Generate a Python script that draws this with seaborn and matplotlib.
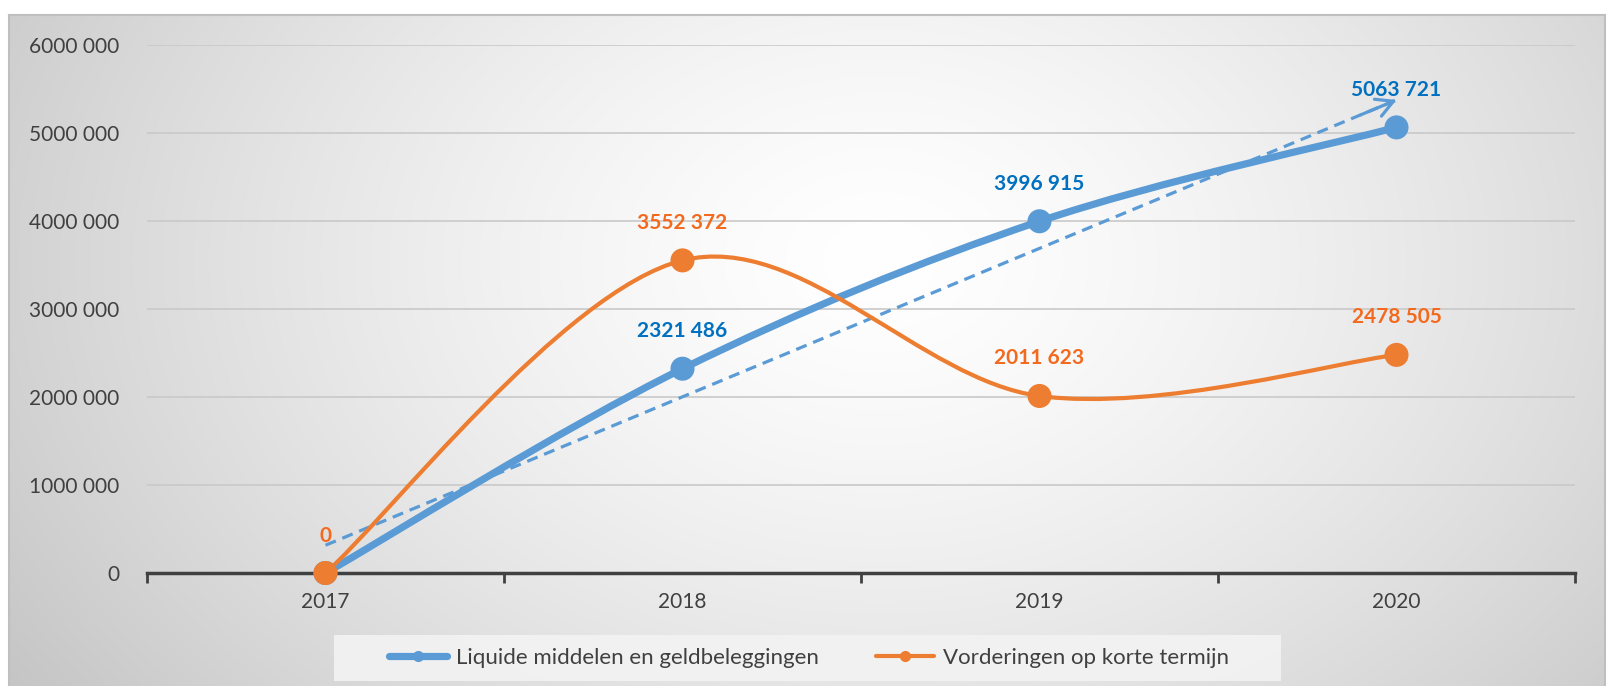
import numpy as np
import matplotlib
matplotlib.use("Agg")
import matplotlib.pyplot as plt
import seaborn as sns
from matplotlib.path import Path
from matplotlib.patches import PathPatch, Rectangle
from matplotlib.lines import Line2D
from matplotlib.ticker import FuncFormatter, FixedLocator

years = ["2017", "2018", "2019", "2020"]
liquide = [0, 2321486, 3996915, 5063721]
vorderingen = [0, 3552372, 2011623, 2478505]
series_names = ["Liquide middelen en geldbeleggingen", "Vorderingen op korte termijn"]

BLUE = "#5B9BD5"
ORANGE = "#ED7D31"
BLUE_TXT = "#0070C0"
ORANGE_TXT = "#F36A1E"
TXT = "#404040"

sns.set_theme(style="white")
plt.rcParams["font.family"] = ["Lato", "DejaVu Sans"]


def fmt_thousands(v):
    s = f"{int(round(v)):,}".replace(",", " ")
    # excel style: "6000 000" (no separator in the millions group)
    parts = s.split(" ")
    if len(parts) > 2:
        s = "".join(parts[:-1]) + " " + parts[-1]
    return s


def smooth_path(xs, ys):
    # catmull-rom style bezier, like excel's "smoothed line"
    pts = np.column_stack([xs, ys]).astype(float)
    ext = np.vstack([pts[0], pts, pts[-1]])
    verts = [tuple(pts[0])]
    codes = [Path.MOVETO]
    for i in range(len(pts) - 1):
        p0, p1, p2, p3 = ext[i], ext[i + 1], ext[i + 2], ext[i + 3]
        c1 = p1 + (p2 - p0) / 6.0
        c2 = p2 - (p3 - p1) / 6.0
        verts += [tuple(c1), tuple(c2), tuple(p2)]
        codes += [Path.CURVE4] * 3
    return Path(verts, codes)


fig = plt.figure(figsize=(16.11, 6.86), dpi=100)
fig.patch.set_facecolor("white")

# chart area background with radial gradient
W, H = 1611, 686
fx0, fy0 = 9, 15
bg = fig.add_axes([fx0 / W, 0, (1605 - fx0) / W, (H - fy0) / H], zorder=-5)
gx, gy = np.meshgrid(np.arange(fx0, 1605), np.arange(fy0, H))
r = np.sqrt(((gx - 880) / 860.0) ** 2 + ((gy - 260) / 620.0) ** 2)
val = 1.0 - 0.235 * (np.clip(r, 0, 1.25) / 1.25) ** 1.4
img = np.dstack([val, val, val])
bg.imshow(img, aspect="auto", interpolation="bilinear")
bg.set_xticks([])
bg.set_yticks([])
for side in ["top", "left", "right"]:
    bg.spines[side].set_color("#bfbfbf")
    bg.spines[side].set_linewidth(1.5)
bg.spines["bottom"].set_visible(False)

ax = fig.add_axes([147 / W, 1 - 573 / H, (1575 - 147) / W, (573 - 45) / H])
ax.patch.set_alpha(0)

x = np.arange(len(years))

# gridlines
ax.set_ylim(0, 6000000)
ax.set_xlim(-0.5, 3.5)
ax.yaxis.set_major_locator(FixedLocator(np.arange(0, 6000001, 1000000)))
ax.yaxis.set_major_formatter(FuncFormatter(lambda v, p: fmt_thousands(v)))
ax.grid(axis="y", color="#c9c9c9", linewidth=1.2, zorder=0)
ax.grid(axis="x", visible=False)

# smoothed series lines
ax.add_patch(PathPatch(smooth_path(x, liquide), fill=False, edgecolor=BLUE,
                       linewidth=5.2, capstyle="round", zorder=3, clip_on=False))
ax.add_patch(PathPatch(smooth_path(x, vorderingen), fill=False, edgecolor=ORANGE,
                       linewidth=3, capstyle="round", zorder=3, clip_on=False))

# linear trend line of the blue series
slope, icpt = np.polyfit(x, liquide, 1)
ax.plot([0, 3], [icpt, icpt + 3 * slope], color=BLUE, linewidth=2.3,
        linestyle=(0, (3.5, 2.2)), zorder=2)
ax.annotate("", xy=(3, icpt + 3 * slope), xytext=(2.9, icpt + 2.9 * slope),
            arrowprops=dict(arrowstyle="->,head_length=0.55,head_width=0.3",
                            color=BLUE, lw=2.3, mutation_scale=22,
                            shrinkA=0, shrinkB=0), zorder=2)

# markers
sns.scatterplot(x=x, y=liquide, s=300, color=BLUE, edgecolor="none",
                zorder=4, ax=ax, legend=False, clip_on=False)
sns.scatterplot(x=x, y=vorderingen, s=300, color=ORANGE, edgecolor="none",
                zorder=5, ax=ax, legend=False, clip_on=False)

# data labels
for xi, v in zip(x, liquide):
    if v == 0:
        continue
    ax.annotate(fmt_thousands(v), (xi, v), xytext=(0, 27), textcoords="offset points",
                ha="center", va="center", fontsize=15, fontweight="bold",
                color=BLUE_TXT, zorder=6)
for xi, v in zip(x, vorderingen):
    ax.annotate(fmt_thousands(v), (xi, v), xytext=(0, 27), textcoords="offset points",
                ha="center", va="center", fontsize=15, fontweight="bold",
                color=ORANGE_TXT, zorder=6)

# axes styling
ax.set_xticks(x)
ax.set_xticklabels(years)
ax.xaxis.set_minor_locator(FixedLocator(np.arange(-0.5, 3.6, 1)))
ax.tick_params(axis="x", which="major", length=0, pad=14, labelsize=15, labelcolor=TXT)
ax.tick_params(axis="x", which="minor", bottom=True, length=7, width=2, color=TXT,
               direction="out")
ax.tick_params(axis="y", length=0, pad=20, labelsize=15, labelcolor=TXT)
for side in ["top", "left", "right"]:
    ax.spines[side].set_visible(False)
ax.spines["bottom"].set_color(TXT)
ax.spines["bottom"].set_linewidth(2.5)
ax.spines["bottom"].set_zorder(1)

# legend box, drawn separately to get excel's wide side padding
fig.patches.append(Rectangle((334 / W, 1 - 681 / H), (1281 - 334) / W, 46 / H,
                             transform=fig.transFigure, facecolor="#f3f3f3",
                             edgecolor="none", alpha=0.9, zorder=1))
handles = [
    Line2D([0], [0], color=BLUE, lw=5.2, marker="o", markersize=7),
    Line2D([0], [0], color=ORANGE, lw=3, marker="o", markersize=7),
]
leg = fig.legend(handles, series_names, loc="center", bbox_to_anchor=(809 / W, 1 - 658 / H),
                 ncol=2, fontsize=16, frameon=False, handlelength=2.6,
                 columnspacing=2.6, handletextpad=0.4, labelcolor=TXT)
leg.set_zorder(2)

fig.savefig("out.png", dpi=100)
